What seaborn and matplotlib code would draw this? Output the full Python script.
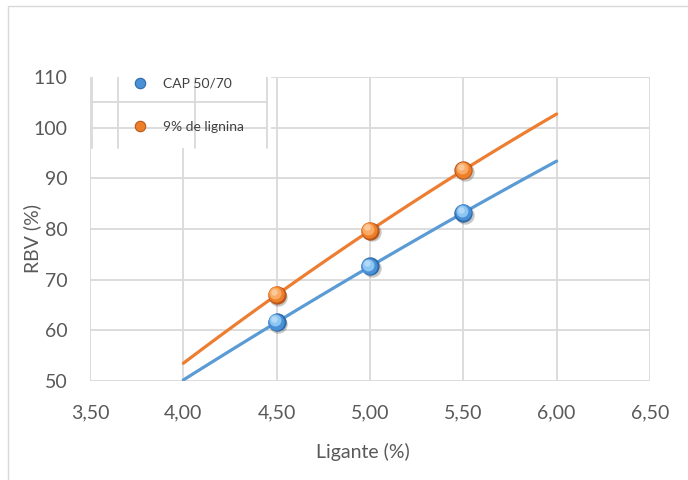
import numpy as np
import pandas as pd
import matplotlib
matplotlib.use("Agg")
import matplotlib.pyplot as plt
import matplotlib.transforms as mtransforms
from matplotlib.patches import Rectangle
from matplotlib.lines import Line2D
import seaborn as sns

# Binder content (%) and bulk volume ratio (%) for the two mixtures
ligante = [4.5, 5.0, 5.5]
rbv_cap = [61.6, 72.6, 83.2]
rbv_lignina = [67.0, 79.7, 91.6]
series_names = ["CAP 50/70", "9% de lignina"]

# Range covered by the 2nd-order trend lines
trend_range = (4.0, 6.0)

x_ticks = [3.5, 4.0, 4.5, 5.0, 5.5, 6.0, 6.5]
x_ticklabels = ["3,50", "4,00", "4,50", "5,00", "5,50", "6,00", "6,50"]
y_ticks = [50, 60, 70, 80, 90, 100, 110]

sns.set_style("white")
plt.rcParams["font.family"] = ["Lato", "DejaVu Sans"]

text_color = "#595959"
grid_color = "#d9d9d9"
palette = {
    "CAP 50/70": dict(line="#5b9bd5", dark="#2f6aa8", base="#4a90d6", light="#8cc6f2"),
    "9% de lignina": dict(line="#ed7d31", dark="#b9561a", base="#ee7f2a", light="#f9ab66"),
}

df = pd.DataFrame({
    "Ligante": ligante * 2,
    "RBV": rbv_cap + rbv_lignina,
    "Serie": [series_names[0]] * 3 + [series_names[1]] * 3,
})

# Quadratic trend lines fitted to each series
xs = np.linspace(trend_range[0], trend_range[1], 100)
trend_frames = []
for name in series_names:
    sub = df[df["Serie"] == name]
    coef = np.polyfit(sub["Ligante"], sub["RBV"], 2)
    trend_frames.append(pd.DataFrame({"Ligante": xs, "RBV": np.polyval(coef, xs), "Serie": name}))
trend = pd.concat(trend_frames, ignore_index=True)

fig = plt.figure(figsize=(6.88, 4.80), dpi=100)
ax = fig.add_axes([90 / 688, 99 / 480, 560 / 688, 304 / 480])

# outer chart border
fig.patches.append(Rectangle((8 / 688, -0.1), 1.2, 0.1 + (1 - 6 / 480),
                             transform=fig.transFigure, fill=False,
                             edgecolor=grid_color, linewidth=1.0, zorder=0))

sns.lineplot(data=trend, x="Ligante", y="RBV", hue="Serie",
             palette={k: v["line"] for k, v in palette.items()},
             linewidth=2.3, legend=False, ax=ax, zorder=3)


def sphere(ax, x, y, colors, size, zorder=5):
    """Draw shaded ball markers at (x, y)."""
    layers = [
        (1.0, (1.2, -1.4), (0, 0, 0, 0.22)),
        (1.0, (0, 0), colors["dark"]),
        (0.78, (-0.5, 0.5), colors["base"]),
        (0.42, (-1.3, 1.4), colors["light"]),
        (0.12, (-1.9, 2.2), (1, 1, 1, 0.35)),
    ]
    for i, (f, (dx, dy), c) in enumerate(layers):
        tr = mtransforms.offset_copy(ax.transData, fig=ax.figure, x=dx, y=dy, units="points")
        ax.scatter(x, y, s=size * f, color=c, linewidths=0, transform=tr, zorder=zorder + i * 0.1)


for name in series_names:
    sub = df[df["Serie"] == name]
    sphere(ax, sub["Ligante"], sub["RBV"], palette[name], 175)

ax.set_xlim(3.5, 6.5)
ax.set_ylim(50, 110)
ax.set_xticks(x_ticks)
ax.set_xticklabels(x_ticklabels)
ax.set_yticks(y_ticks)
ax.grid(True, color=grid_color, linewidth=1.3)
ax.set_axisbelow(True)
for s in ax.spines.values():
    s.set_visible(False)
ax.tick_params(axis="both", length=0, labelsize=14, labelcolor=text_color)
ax.tick_params(axis="x", pad=17)
ax.tick_params(axis="y", pad=16)

ax.set_xlabel("Ligante (%)", fontsize=14, color=text_color)
ax.set_ylabel("RBV (%)", fontsize=14, color=text_color)
ax.xaxis.set_label_coords(0.4875, -0.205)
ax.yaxis.set_label_coords(-0.088, 0.47)

# legend panel
ax.add_patch(Rectangle((3.505, 96.0), 4.47 - 3.505, 14.0, facecolor="white",
                       edgecolor="none", zorder=2))
for xv in [3.51, 3.65, 4.06, 4.45]:
    ax.add_line(Line2D([xv, xv], [96.0, 110], color=grid_color, linewidth=1.3, zorder=2.1))
for yv in [105.1, 100.0]:
    ax.add_line(Line2D([3.51, 4.45], [yv, yv], color=grid_color, linewidth=1.3, zorder=2.1))

handles = [
    Line2D([], [], linestyle="none", marker="o", markersize=7.5,
           markerfacecolor=palette[n]["base"], markeredgecolor=palette[n]["dark"],
           markeredgewidth=0.8)
    for n in series_names
]
leg = ax.legend(handles, series_names, loc="upper left",
                bbox_to_anchor=(133 / 688, 1 - 78 / 480), bbox_transform=fig.transFigure,
                frameon=False, fontsize=10, labelcolor="#404040",
                handlelength=1.0, handletextpad=1.15, labelspacing=2.25, borderpad=0,
                borderaxespad=0)
leg.set_zorder(10)

fig.savefig("out.png", dpi=100, facecolor="white")
